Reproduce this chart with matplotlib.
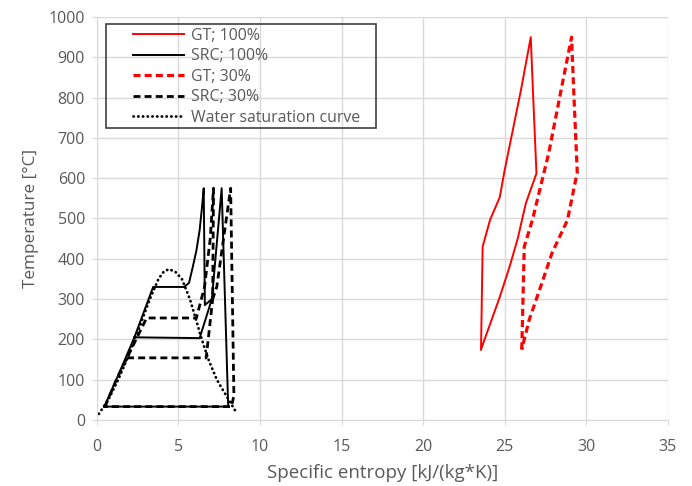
import matplotlib
matplotlib.use('Agg')
import matplotlib.pyplot as plt
from matplotlib.patches import Rectangle
import numpy as np

nan = np.nan

# GT; 100%
s_gt100 = [23.55, 23.65, 24.1, 24.7, 25.0, 26.0, 26.6, 26.75, 26.95, 26.3, 25.8, 25.3, 24.7, 23.55]
t_gt100 = [175, 430, 496, 553, 620, 819, 950, 800, 612, 538, 450, 380, 305, 175]

# GT; 30%
s_gt30 = [26.05, 26.2, 26.7, 27.7, 28.5, 29.1, 29.25, 29.45, 28.85, 27.9, 27.2, 26.5, 26.05]
t_gt30 = [175, 430, 496, 662, 827, 950, 800, 615, 496, 414, 330, 248, 175]

# SRC; 100%  (nan = break between HP and LP parts)
s_src100 = [0.45, 1.3, 2.3, 3.45, 5.35, 5.65, 5.88, 6.1, 6.3, 6.45, 6.55, 6.62, 7.05, 7.65, 8.05, 0.45,
            nan, 2.3, 6.3, 7.05]
t_src100 = [33, 110, 205, 330, 330, 340, 380, 420, 471, 530, 575, 285, 300, 575, 33, 33,
            nan, 205, 203, 300]

# SRC; 30%
s_src30 = [0.5, 1.2, 1.85, 3.05, 6.1, 6.6, 6.95, 7.15, 7.1, 7.35, 8.2, 8.4, 8.25, 0.5,
           nan, 1.85, 6.7, 7.1]
t_src30 = [33, 100, 154, 253, 253, 330, 450, 575, 300, 330, 575, 60, 33, 33,
           nan, 154, 154, 300]

# water saturation curve
s_sat = [0.12, 0.7, 1.31, 1.84, 2.33, 2.79, 3.25, 3.78, 4.1, 4.41, 4.8, 5.21, 5.7, 6.07, 6.43, 6.84, 7.35, 8.08, 8.6]
t_sat = [15, 50, 100, 150, 200, 250, 300, 350, 368, 374, 368, 350, 300, 250, 200, 150, 100, 50, 15]

plt.rcParams['font.family'] = ['Open Sans', 'DejaVu Sans']
grey = '#595959'
light = '#d9d9d9'

fig = plt.figure(figsize=(6.92, 4.86), dpi=100)
ax = fig.add_axes([0.140, 0.136, 0.825, 0.829])

ax.plot(s_gt100, t_gt100, color='#ff0000', lw=1.4, label='GT; 100%')
ax.plot(s_src100, t_src100, color='black', lw=1.4, label='SRC; 100%')
ax.plot(s_gt30, t_gt30, color='#ff0000', lw=2.3, ls=(0, (2.2, 1.3)), label='GT; 30%')
ax.plot(s_src30, t_src30, color='black', lw=2.0, ls=(0, (2.5, 1.5)), label='SRC; 30%')
ax.plot(s_sat, t_sat, color='black', lw=2.0, ls=(0, (0.1, 1.6)), dash_capstyle='round',
        label='Water saturation curve')

ax.set_xlim(0, 35)
ax.set_ylim(0, 1000)
ax.set_xticks(np.arange(0, 36, 5))
ax.set_yticks(np.arange(0, 1001, 100))
ax.grid(True, color=light, lw=1)
ax.set_axisbelow(True)
for side in ['top', 'right']:
    ax.spines[side].set_visible(False)
ax.spines['bottom'].set_color(light)
ax.spines['left'].set_color(light)
ax.tick_params(length=3.5, color=light, labelsize=11.5, labelcolor=grey)
ax.tick_params(axis='x', pad=10)
ax.tick_params(axis='y', pad=5)
ax.set_xlabel('Specific entropy [kJ/(kg*K)]', fontsize=13.5, color=grey, labelpad=7)
ax.set_ylabel('Temperature [°C]', fontsize=12.3, color=grey, labelpad=7)

# legend box drawn like the Excel one
fig.patches.append(Rectangle((0.1532, 0.7366), 0.390, 0.214, transform=fig.transFigure,
                             fill=False, edgecolor='#404040', lw=1.2, zorder=5))
leg = ax.legend(loc='upper left', bbox_to_anchor=(0.1922, 0.9425),
                bbox_transform=fig.transFigure, fontsize=11.4, frameon=False,
                handlelength=3.2, handletextpad=0.45, labelspacing=0.28,
                borderpad=0, borderaxespad=0, labelcolor=grey)

fig.savefig('out.png', dpi=100)
